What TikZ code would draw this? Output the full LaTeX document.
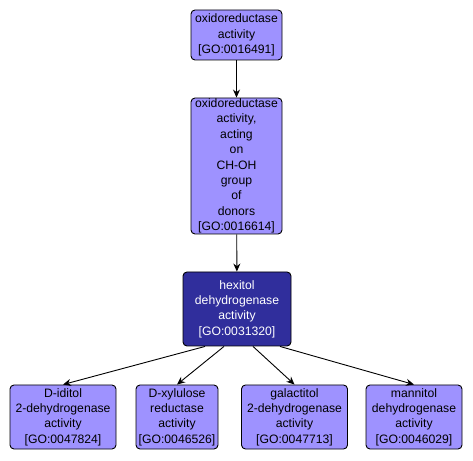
\documentclass[tikz,border=0pt]{standalone}
\usepackage{fontspec}
\setmainfont{Liberation Sans}
\usetikzlibrary{arrows.meta,positioning}
\definecolor{golight}{RGB}{158,146,255}
\definecolor{godark}{RGB}{48,46,156}

\begin{document}
\begin{tikzpicture}[x=1pt,y=1pt,font=\fontsize{12.2}{15.4}\selectfont,
  term/.style={draw=black,line width=0.9pt,fill=golight,rounded corners=4pt,align=center,inner sep=0pt},
  hit/.style={term,fill=godark,text=white},
  isa/.style={line width=0.9pt,-{Stealth[length=8pt,width=7pt]}}]
  \useasboundingbox (0,0) rectangle (473,460);
  \node[term,minimum width=91,minimum height=50] (go16491) at (236.5,425) {oxidoreductase\\activity\\{[GO:0016491]}};
  \node[term,minimum width=91,minimum height=136] (go16614) at (236.5,294) {oxidoreductase\\activity,\\acting\\on\\CH-OH\\group\\of\\donors\\{[GO:0016614]}};
  \node[hit,minimum width=108,minimum height=74] (go31320) at (237,151) {hexitol\\dehydrogenase\\activity\\{[GO:0031320]}};
  \node[term,minimum width=106,minimum height=64] (go47824) at (63,43) {D-iditol\\2-dehydrogenase\\activity\\{[GO:0047824]}};
  \node[term,minimum width=82,minimum height=64] (go46526) at (177,43) {D-xylulose\\reductase\\activity\\{[GO:0046526]}};
  \node[term,minimum width=106,minimum height=64] (go47713) at (294.5,43) {galactitol\\2-dehydrogenase\\activity\\{[GO:0047713]}};
  \node[term,minimum width=96,minimum height=64] (go46029) at (414,43) {mannitol\\dehydrogenase\\activity\\{[GO:0046029]}};
  \draw[isa] (go16491) -- (go16614);
  \draw[isa] (go16614) -- (go31320);
  \draw[isa] ([xshift=-32pt]go31320.south) -- (go47824.north);
  \draw[isa] ([xshift=-13pt]go31320.south) -- (go46526.north);
  \draw[isa] ([xshift=16pt]go31320.south) -- (go47713.north);
  \draw[isa] ([xshift=43pt]go31320.south) -- (go46029.north);
\end{tikzpicture}
\end{document}
